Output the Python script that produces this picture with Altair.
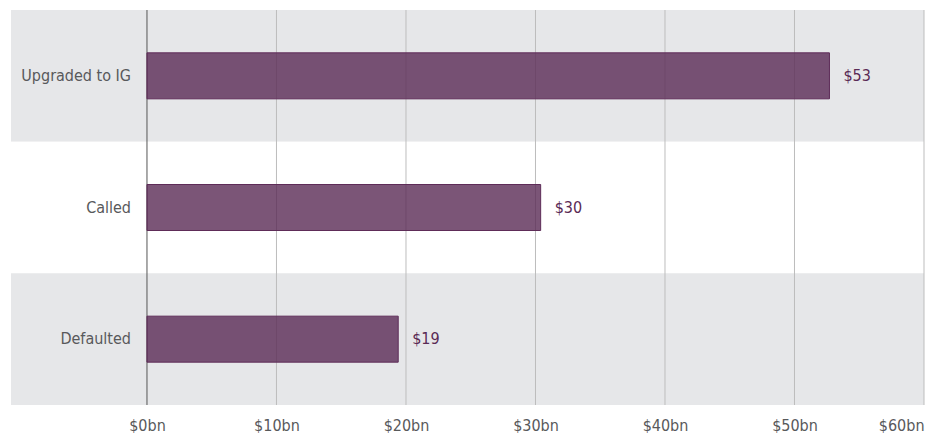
import altair as alt
import pandas as pd

categories = ["Upgraded to IG", "Called", "Defaulted"]
values = [52.7, 30.4, 19.4]
value_labels = ["$53", "$30", "$19"]
row_shade = ["gray", "white", "gray"]
tick_values = [0, 10, 20, 30, 40, 50, 60]

df = pd.DataFrame({"category": categories, "value": values,
                   "label": value_labels, "shade": row_shade})
ticks = pd.DataFrame({"tick": tick_values})

W, H = 913, 395
XMIN = -10.5
FONT = "DejaVu Sans Condensed, DejaVu Sans, sans-serif"

x_scale = alt.Scale(domain=[XMIN, 60], nice=False, zero=False)
y_scale = alt.Scale(domain=categories, paddingInner=0, paddingOuter=0)
x_axis = alt.Axis(values=tick_values, labelExpr="'$' + datum.value + 'bn'",
                  domain=False, ticks=False, grid=False, title=None,
                  labelFontSize=16, labelColor="#58595b", labelFont=FONT,
                  labelPadding=12, labelFlush=True)
y_enc = alt.Y("category:N", scale=y_scale, axis=None, sort=categories)

bg = alt.Chart(df).mark_rect().encode(
    y=y_enc,
    x=alt.value(0), x2=alt.value(W),
    color=alt.Color("shade:N", scale=alt.Scale(domain=["gray", "white"],
                                               range=["#e6e7e9", "#ffffff"]),
                    legend=None),
)

grid = alt.Chart(ticks).mark_rule(strokeWidth=1).encode(
    x=alt.X("tick:Q", scale=x_scale, axis=x_axis),
    y=alt.value(0), y2=alt.value(H),
    color=alt.condition("datum.tick == 0", alt.value("#555555"), alt.value("#bdbdbd")),
)

bars = alt.Chart(df).mark_bar(size=46, fill="#5a2a55", fillOpacity=0.8,
                              stroke="#5e2c58", strokeWidth=1).encode(
    x=alt.X("value:Q", scale=x_scale, axis=x_axis),
    x2=alt.datum(0),
    y=y_enc,
)

vlabels = alt.Chart(df).mark_text(align="left", baseline="middle", dx=14,
                                  fontSize=16, font=FONT, color="#5a2a55").encode(
    x=alt.X("value:Q", scale=x_scale, axis=x_axis),
    y=y_enc,
    text="label:N",
)

clabels = alt.Chart(df).mark_text(align="right", baseline="middle",
                                  fontSize=16, font=FONT, color="#58595b").encode(
    x=alt.value(120),
    y=y_enc,
    text="category:N",
)

chart = alt.layer(bg, grid, bars, vlabels, clabels).properties(
    width=W, height=H,
    padding={"left": 3, "top": 2, "right": 2, "bottom": 28},
    autosize="none",
    background="#ffffff",
).configure_view(stroke=None)

chart.save("out.html", embed_options={"renderer": "svg", "actions": False})
